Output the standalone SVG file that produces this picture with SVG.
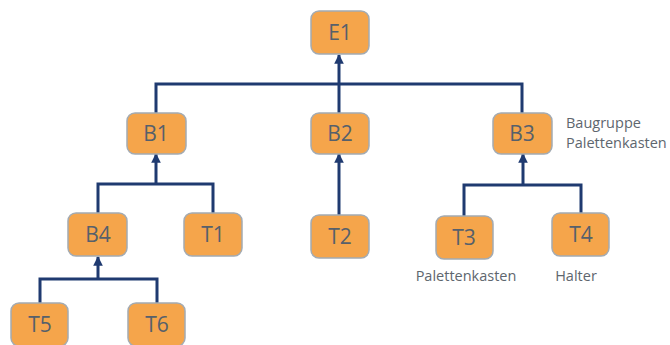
<svg xmlns="http://www.w3.org/2000/svg" width="670" height="345" viewBox="0 0 670 345">
<style>
.box{fill:#F5A54B;stroke:#A3ABB3;stroke-width:1.5}
.t{font-family:"Open Sans","Liberation Sans",sans-serif;font-size:21px;fill:#56606B;text-anchor:middle}
.lbl{font-family:"Open Sans","Liberation Sans",sans-serif;font-size:14.5px;fill:#5E666E}
.c{fill:none;stroke:#1F3A70;stroke-width:3}
</style>
<defs>
<marker id="a" viewBox="0 0 10 10" refX="9" refY="5" markerWidth="3.2" markerHeight="3.2" orient="auto" markerUnits="strokeWidth">
<path d="M0,0 L10,5 L0,10 z" fill="#1F3A70"/>
</marker>
</defs>
<rect width="670" height="345" fill="#fff"/>
<g id="connectors">
<path class="c" d="M156,113 V84 H522 V113"/>
<path class="c" d="M339,113 V55" marker-end="url(#a)"/>
<path class="c" d="M98,213 V184 H213 V213"/>
<path class="c" d="M156,184 V154" marker-end="url(#a)"/>
<path class="c" d="M339,215 V154" marker-end="url(#a)"/>
<path class="c" d="M464,216 V185 H581 V213"/>
<path class="c" d="M523,185 V154" marker-end="url(#a)"/>
<path class="c" d="M40,303 V279 H157 V303"/>
<path class="c" d="M98,279 V257" marker-end="url(#a)"/>
</g>
<g id="E1"><rect class="box" x="311" y="11" width="58" height="43" rx="8"/><text class="t" x="340" y="40">E1</text></g>
<g id="B1"><rect class="box" x="127" y="113" width="59" height="41" rx="8"/><text class="t" x="156" y="141">B1</text></g>
<g id="B2"><rect class="box" x="311" y="113" width="58" height="41" rx="8"/><text class="t" x="340" y="141">B2</text></g>
<g id="B3"><rect class="box" x="493" y="113" width="59" height="41" rx="8"/><text class="t" x="522" y="141">B3</text>
<text class="lbl" x="566" y="128">Baugruppe</text><text class="lbl" x="566" y="148">Palettenkasten</text></g>
<g id="B4"><rect class="box" x="68" y="213" width="59" height="43" rx="8"/><text class="t" x="98" y="242">B4</text></g>
<g id="T1"><rect class="box" x="184" y="213" width="58" height="43" rx="8"/><text class="t" x="213" y="242">T1</text></g>
<g id="T2"><rect class="box" x="311" y="215" width="58" height="43" rx="8"/><text class="t" x="340" y="244">T2</text></g>
<g id="T3"><rect class="box" x="436" y="216" width="57" height="43" rx="8"/><text class="t" x="464" y="245">T3</text>
<text class="lbl" x="466" y="281" text-anchor="middle">Palettenkasten</text></g>
<g id="T4"><rect class="box" x="552" y="213" width="57" height="43" rx="8"/><text class="t" x="581" y="242">T4</text>
<text class="lbl" x="576" y="281" text-anchor="middle">Halter</text></g>
<g id="T5"><rect class="box" x="11" y="303" width="57" height="43" rx="8"/><text class="t" x="40" y="332">T5</text></g>
<g id="T6"><rect class="box" x="128" y="303" width="57" height="43" rx="8"/><text class="t" x="157" y="332">T6</text></g>
</svg>
